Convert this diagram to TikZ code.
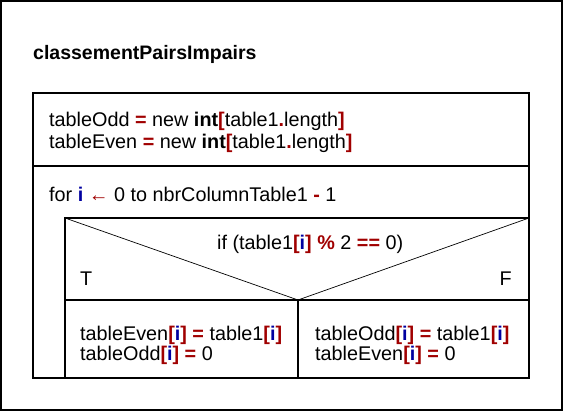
\documentclass[tikz,border=0pt]{standalone}
\usepackage{fontspec}
\setmainfont{Liberation Sans}
\usetikzlibrary{positioning}
\definecolor{OpRed}{RGB}{160,0,0}
\definecolor{IdxBlue}{RGB}{0,0,160}
\newcommand{\op}[1]{\textcolor{OpRed}{\textbf{#1}}}
\newcommand{\idx}[1]{\textcolor{IdxBlue}{\textbf{#1}}}

\begin{document}
\begin{tikzpicture}[x=1pt, y=-1pt,
  every node/.style={inner sep=0pt, anchor=base west,
                     font=\fontsize{19.8}{22}\selectfont},
  box/.style={draw, line width=1.2pt},
  diag/.style={draw, line width=0.7pt}]
  \useasboundingbox (0,0) rectangle (563,411);
  \draw[line width=2pt] (1,1) rectangle (562,410);
  \node[font=\fontsize{19.5}{22}\selectfont\bfseries] (title) at (33,60)
        {classementPairsImpairs};
  % blocks
  \draw[box] (33,93) rectangle (529,378);
  \draw[box] (33,166) -- (529,166);
  \draw[box] (65,218) rectangle (529,378);
  \draw[box] (65,300) -- (529,300);
  \draw[diag] (65,218) -- (298,300) -- (529,218);
  \draw[box] (298,300) -- (298,378);
  % declarations
  \node (decla) at (49,127)
        {tableOdd \op{=} new \textbf{int}\op{[}table1\op{.}length\op{]}};
  \node (declb) at (49,149)
        {tableEven \op{=} new \textbf{int}\op{[}table1\op{.}length\op{]}};
  \node (loop) at (49,202)
        {for \idx{i} \textcolor{OpRed}{←} 0 to nbrColumnTable1 \op{-} 1};
  \node (cond) at (217,250)
        {if (table1\op{[}\idx{i}\op{]} \op{\%} 2 \op{==} 0)};
  \node (true) at (80,286) {T};
  \node[anchor=base east] (false) at (512,286) {F};
  % branches
  \node (thena) at (80,341) {tableEven\op{[}\idx{i}\op{]} \op{=} table1\op{[}\idx{i}\op{]}};
  \node (thenb) at (80,361) {tableOdd\op{[}\idx{i}\op{]} \op{=} 0};
  \node (elsea) at (315,341) {tableOdd\op{[}\idx{i}\op{]} \op{=} table1\op{[}\idx{i}\op{]}};
  \node (elseb) at (315,361) {tableEven\op{[}\idx{i}\op{]} \op{=} 0};
\end{tikzpicture}
\end{document}
